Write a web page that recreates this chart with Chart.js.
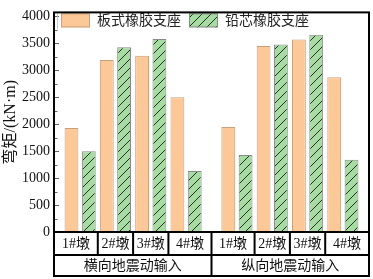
<!DOCTYPE html>
<html><head><meta charset="utf-8">
<script src="https://cdn.jsdelivr.net/npm/chart.js@4.4.0/dist/chart.umd.min.js"></script>
<style>html,body{margin:0;padding:0;background:#fff}</style>
</head><body>
<canvas id="c" width="373" height="279"></canvas>
<script>
const groups = ['横向地震动输入', '纵向地震动输入'];
const piers = ['1#墩', '2#墩', '3#墩', '4#墩'];
const seriesNames = ['板式橡胶支座', '铅芯橡胶支座'];
const plateBearing = [1930, 3190, 3270, 2500, 1950, 3450, 3570, 2870];
const leadBearing  = [1500, 3430, 3580, 1130, 1430, 3480, 3660, 1340];
const yTicks = [0, 500, 1000, 1500, 2000, 2500, 3000, 3500, 4000];

const ORANGE = '#FDC898';
const GREEN = '#A6DBA2';
const GROUP_GAP = 0.44;
const EDGE = 0.74;
const nPer = piers.length;
const nAll = groups.length * nPer;
const xPos = i => i + Math.floor(i / nPer) * GROUP_GAP;

function hatchPattern(ctx) {
  const s = 9;
  const c = document.createElement('canvas');
  c.width = s; c.height = s;
  const g = c.getContext('2d');
  g.fillStyle = GREEN; g.fillRect(0, 0, s, s);
  g.strokeStyle = '#1a1a1a'; g.lineWidth = 0.9;
  g.beginPath();
  g.moveTo(-1, s + 1); g.lineTo(s + 1, -1);
  g.moveTo(-1, 1); g.lineTo(1, -1);
  g.moveTo(s - 1, s + 1); g.lineTo(s + 1, s - 1);
  g.stroke();
  return ctx.createPattern(c, 'repeat');
}

const canvas = document.getElementById('c');
const ctx0 = canvas.getContext('2d');
const hatch = hatchPattern(ctx0);

const FONT_FAM = "'Liberation Serif', 'Noto Sans CJK SC', serif";

const framePlugin = {
  id: 'frame',
  beforeDraw(chart) {
    const c = chart.ctx;
    c.save(); c.fillStyle = '#fff'; c.fillRect(0, 0, chart.width, chart.height); c.restore();
  },
  afterDraw(chart) {
    const c = chart.ctx, a = chart.chartArea, x = chart.scales.x, y = chart.scales.y;
    c.save();
    // inward ticks
    c.strokeStyle = '#666'; c.lineWidth = 1;
    y.ticks.forEach(t => {
      const py = Math.round(y.getPixelForValue(t.value)) + 0.5;
      const major = yTicks.includes(t.value);
      c.beginPath(); c.moveTo(a.left, py); c.lineTo(a.left + (major ? 5 : 3.5), py); c.stroke();
    });
    // legend
    const ly = a.top + 1, lh = 14;
    c.strokeStyle = '#c0c0c0'; c.lineWidth = 0.8;
    c.beginPath(); c.moveTo(a.left + 3.5, a.top); c.lineTo(a.left + 3.5, a.top + 17); c.stroke();
    const items = [{x: 61, fill: ORANGE, border: '#c9a07c'}, {x: 189, fill: hatch, border: '#8a8a8a'}];
    c.font = "14px " + FONT_FAM; c.textBaseline = 'middle'; c.textAlign = 'left';
    items.forEach((it, k) => {
      c.fillStyle = it.fill; c.fillRect(it.x, ly, 29, lh);
      c.strokeStyle = it.border; c.lineWidth = 1; c.strokeRect(it.x + 0.5, ly + 0.5, 28, lh - 1);
      c.fillStyle = '#222'; c.fillText(seriesNames[k], it.x + 36, ly + lh / 2 + 0.5);
    });
    // frame and table
    const L = a.left, R = a.right, T = a.top, B = a.bottom, r1 = B + 23, r2 = B + 44;
    c.strokeStyle = '#000'; c.lineWidth = 2;
    c.strokeRect(L, T, R - L, r2 - T);
    c.beginPath();
    c.moveTo(L, B); c.lineTo(R, B);
    c.moveTo(L, r1); c.lineTo(R, r1);
    for (let i = 0; i < nAll - 1; i++) {
      const m = (x.getPixelForValue(xPos(i)) + x.getPixelForValue(xPos(i + 1))) / 2;
      c.moveTo(m, B); c.lineTo(m, (i + 1) % nPer === 0 ? r2 : r1);
    }
    c.stroke();
    c.fillStyle = '#111'; c.textAlign = 'center'; c.textBaseline = 'middle';
    c.font = "14px " + FONT_FAM;
    const bnd = [L];
    for (let i = 0; i < nAll - 1; i++) bnd.push((x.getPixelForValue(xPos(i)) + x.getPixelForValue(xPos(i + 1))) / 2);
    bnd.push(R);
    for (let i = 0; i < nAll; i++) {
      c.fillText(piers[i % nPer], (bnd[i] + bnd[i + 1]) / 2, (B + r1) / 2 + 0.5);
    }
    groups.forEach((gname, g) => {
      c.fillText(gname, (bnd[g * nPer] + bnd[(g + 1) * nPer]) / 2, (r1 + r2) / 2 + 0.5);
    });
    c.restore();
  }
};

const mk = arr => arr.map((v, i) => ({x: xPos(i), y: v}));

new Chart(canvas, {
  type: 'bar',
  data: {
    datasets: [
      {label: seriesNames[0], data: mk(plateBearing), backgroundColor: ORANGE, borderColor: '#c9a07c', borderWidth: 1},
      {label: seriesNames[1], data: mk(leadBearing), backgroundColor: hatch, borderColor: '#8a8a8a', borderWidth: 1}
    ]
  },
  options: {
    responsive: false,
    devicePixelRatio: 1,
    animation: false,
    categoryPercentage: 0.98,
    barPercentage: 0.8,
    layout: {padding: {left: 0, right: 4, top: 4, bottom: 47}},
    plugins: {legend: {display: false}, tooltip: {enabled: false}},
    scales: {
      x: {
        type: 'linear', display: false, offset: false,
        min: xPos(0) - EDGE, max: xPos(nAll - 1) + EDGE,
        grid: {display: false}
      },
      y: {
        min: 0, max: 4075,
        afterFit(s) { s.width = 54; },
        afterBuildTicks(s) {
          const t = [];
          yTicks.forEach((v, i) => {
            t.push({value: v});
            if (i < yTicks.length - 1) t.push({value: (v + yTicks[i + 1]) / 2});
          });
          s.ticks = t;
        },
        ticks: {
          autoSkip: false, padding: 4, color: '#111',
          font: {family: FONT_FAM, size: 14},
          callback: v => yTicks.includes(v) ? String(v) : ''
        },
        grid: {display: false, drawTicks: false},
        border: {display: false},
        title: {display: true, text: '弯矩/(kN·m)', color: '#111',
          font: {family: FONT_FAM, size: 16}, padding: {top: 1, bottom: 0}}
      }
    }
  },
  plugins: [framePlugin]
});
</script>
</body></html>
